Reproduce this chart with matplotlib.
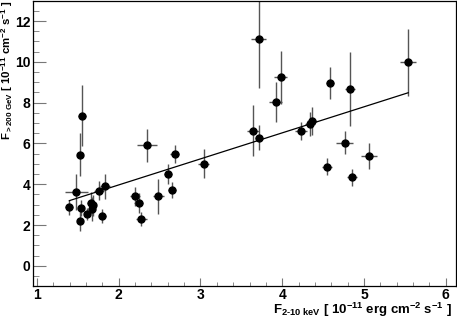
import numpy as np
import matplotlib
matplotlib.use('Agg')
import matplotlib.pyplot as plt
from matplotlib.ticker import MultipleLocator

plt.rcParams['font.family'] = ['Liberation Sans', 'DejaVu Sans']
plt.rcParams['font.weight'] = 'bold'
plt.rcParams['mathtext.fontset'] = 'custom'
plt.rcParams['mathtext.rm'] = 'Liberation Sans:bold'
plt.rcParams['mathtext.bf'] = 'Liberation Sans:bold'
plt.rcParams['mathtext.it'] = 'Liberation Sans:bold'
plt.rcParams['mathtext.default'] = 'bf'

# X-ray flux (2-10 keV) vs VHE flux (>200 GeV), units 1e-11
f_x = [1.397, 1.479, 1.527, 1.556, 1.540, 1.531, 1.613, 1.667, 1.683, 1.675,
       1.756, 1.828, 1.800, 2.203, 2.243, 2.276, 2.349, 2.487, 2.602, 2.654,
       2.683, 3.040, 3.643, 3.717, 3.713, 3.921, 3.982, 4.230, 4.339, 4.360,
       4.584, 4.828, 5.540, 4.763, 5.060, 4.543, 4.856]
f_x_err = [0.05, 0.14, 0.03, 0.05, 0.04, 0.03, 0.04, 0.05, 0.04, 0.04,
           0.06, 0.06, 0.04, 0.06, 0.05, 0.07, 0.12, 0.07, 0.05, 0.05,
           0.06, 0.07, 0.07, 0.05, 0.09, 0.08, 0.08, 0.07, 0.06, 0.06,
           0.05, 0.06, 0.10, 0.10, 0.10, 0.06, 0.06]
f_vhe = [2.86, 3.62, 5.45, 7.35, 2.83, 2.20, 2.55, 3.10, 2.96, 2.78,
         3.69, 3.89, 2.45, 3.40, 3.07, 2.29, 5.91, 3.40, 4.51, 3.71,
         5.49, 5.01, 6.63, 6.29, 11.10, 8.03, 9.24, 6.60, 6.94, 7.10,
         8.96, 8.67, 9.98, 6.04, 5.39, 4.85, 4.33]
f_vhe_err = [0.35, 0.90, 1.05, 1.50, 0.40, 0.50, 0.30, 0.50, 0.50, 0.60,
             0.45, 0.60, 0.35, 0.45, 0.50, 0.35, 0.82, 0.88, 0.50, 0.40,
             0.45, 0.70, 1.24, 0.60, 2.40, 0.98, 1.30, 0.45, 0.60, 0.70,
             0.80, 1.80, 1.65, 0.55, 0.65, 0.42, 0.43]

# linear fit
slope = 1.277
intercept = 1.41

fig = plt.figure(figsize=(4.57, 3.18), dpi=100)
ax = fig.add_axes((0.073, 0.100, 0.924, 0.898))

ax.errorbar(f_x, f_vhe, xerr=f_x_err, yerr=f_vhe_err, fmt='o', color='black',
            ecolor='#555555', elinewidth=1.0, capsize=0, markersize=5)

xl = np.array([min(f_x), max(f_x)])
ax.plot(xl, intercept + slope * xl, color='black', lw=0.9)

ax.set_xlim(0.957, 6.12)
ax.set_ylim(-1, 13)
ax.xaxis.set_major_locator(MultipleLocator(1))
ax.xaxis.set_minor_locator(MultipleLocator(0.2))
ax.yaxis.set_major_locator(MultipleLocator(2))
ax.yaxis.set_minor_locator(MultipleLocator(0.5))
ax.tick_params(which='both', direction='in', color='#777777', labelsize=10)
ax.tick_params(axis='x', which='major', length=5.8, pad=1.5)
ax.tick_params(axis='x', which='minor', length=2.9)
ax.tick_params(axis='y', which='major', length=9.4, pad=2)
ax.tick_params(axis='y', which='minor', length=4.3)
for s in ax.spines.values():
    s.set_linewidth(0.9)

fig.text(452 / 457, 3.8 / 318,
         r'F$_{2\text{-}10\ keV}$ [ 10$^{-11}$ erg cm$^{-2}$ s$^{-1}$ ]',
         fontsize=9.5, ha='right', va='baseline')
fig.text(7.5 / 457, 0.999,
         r'F$_{>200\ GeV}$ [ 10$^{-11}$ cm$^{-2}$ s$^{-1}$ ]',
         fontsize=8.2, rotation=90, ha='center', va='top')

fig.savefig('out.png', dpi=100)
